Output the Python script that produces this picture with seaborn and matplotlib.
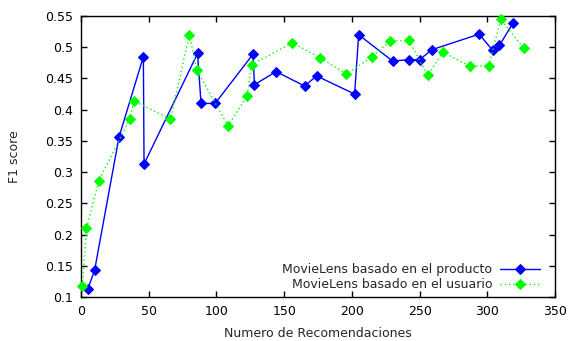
import numpy as np
import pandas as pd
import seaborn as sns
import matplotlib.pyplot as plt

# MovieLens basado en el producto
prod_x = [5, 10, 28, 46, 46.5, 86, 88.6, 99, 127, 128, 144, 165, 174, 202, 205,
          230, 242, 250, 259, 294, 304, 309, 319]
prod_y = [0.113, 0.143, 0.356, 0.485, 0.313, 0.490, 0.410, 0.410, 0.489, 0.440,
          0.461, 0.438, 0.454, 0.425, 0.520, 0.478, 0.480, 0.480, 0.496, 0.521,
          0.495, 0.503, 0.539]

# MovieLens basado en el usuario
user_x = [1, 4, 13, 36, 39, 66, 80, 85.5, 108.6, 122.6, 126, 156, 176.5, 196, 215,
          228, 242, 256, 267, 287, 301, 310, 327]
user_y = [0.118, 0.210, 0.286, 0.385, 0.414, 0.385, 0.520, 0.463, 0.374, 0.422,
          0.472, 0.507, 0.483, 0.457, 0.485, 0.510, 0.511, 0.455, 0.492, 0.470,
          0.470, 0.545, 0.498]

x_ticks = [0, 50, 100, 150, 200, 250, 300, 350]
y_ticks = [0.1, 0.15, 0.2, 0.25, 0.3, 0.35, 0.4, 0.45, 0.5, 0.55]

sns.set_style("ticks")
plt.rcParams['font.family'] = ['DejaVu Sans']
plt.rcParams['font.size'] = 9

fig, ax = plt.subplots(figsize=(5.71, 3.41), dpi=100)
fig.subplots_adjust(left=0.142, right=0.972, top=0.953, bottom=0.129)

sns.lineplot(x=prod_x, y=prod_y, sort=False, ax=ax, color='#0000ff', lw=1,
             marker='D', markersize=5.5, markeredgecolor='#0000ff',
             clip_on=False, zorder=3, label='MovieLens basado en el producto')
sns.lineplot(x=user_x, y=user_y, sort=False, ax=ax, color='#00ff00', lw=1,
             linestyle=(0, (1, 2)), marker='D', markersize=5.5,
             markeredgecolor='#00ff00', clip_on=False, zorder=3,
             label='MovieLens basado en el usuario')

ax.set_xlim(0, 350)
ax.set_ylim(0.1, 0.55)
ax.set_xticks(x_ticks)
ax.set_yticks(y_ticks)
ax.set_yticklabels([('%g' % v) for v in y_ticks])
ax.tick_params(direction='in', top=True, right=True, length=4, width=1,
               colors='black', labelsize=9, pad=6)
for s in ax.spines.values():
    s.set_color('black')
    s.set_linewidth(1)

ax.set_xlabel('Numero de Recomendaciones', fontsize=9, labelpad=6)
ax.set_ylabel('F1 score', fontsize=9, labelpad=17)

leg = ax.legend(loc='lower right', bbox_to_anchor=(0.968, 0.02), frameon=False,
                markerfirst=False, numpoints=1, handlelength=3.2,
                handletextpad=0.6, labelspacing=0.2, borderaxespad=0,
                borderpad=0, fontsize=9)

plt.savefig('out.png', dpi=100)
